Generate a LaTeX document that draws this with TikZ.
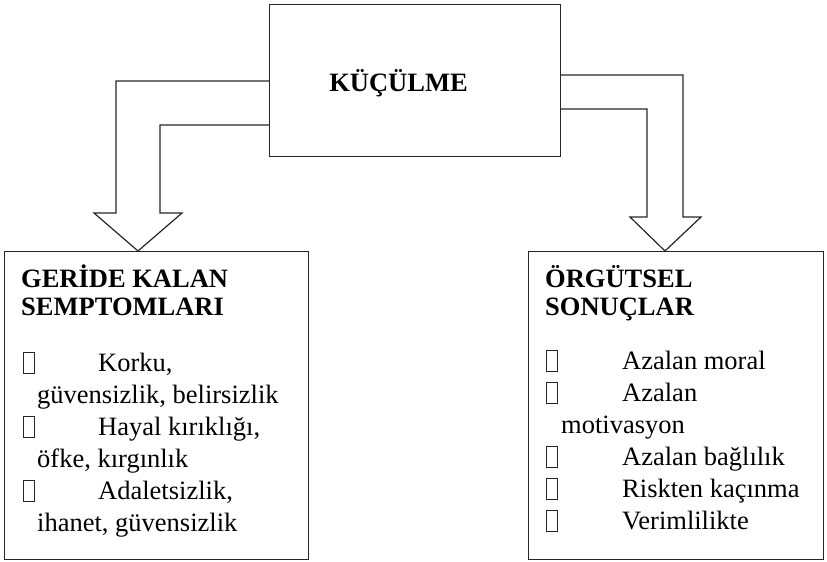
\documentclass[tikz,border=0pt]{standalone}
\usepackage{fontspec}
\setmainfont{Liberation Serif}
\newfontfamily\headfont{Liberation Serif}[UprightFont={* Bold}]
\begin{document}
\begin{tikzpicture}[x=1pt,y=-1pt]
\tikzset{
  frame/.style={draw=black!85, line width=1.2pt, inner sep=0pt, anchor=north west},
  blockarrow/.style={draw=black!85, line width=1.2pt},
  txt/.style={anchor=base west, inner sep=0pt, font=\fontsize{26.5}{30}\selectfont},
  head/.style={anchor=base west, inner sep=0pt, font=\headfont\fontsize{26.5}{30}\selectfont},
  tofu/.style={draw=black!85, line width=0.9pt, minimum width=11pt, minimum height=21pt, inner sep=0pt, anchor=south west}
}
\useasboundingbox (0,0) rectangle (827,562);

% central box
\node[frame, minimum width=291pt, minimum height=152pt] (kucul) at (269,4) {};
\node[head, anchor=base] (kuctitle) at (398.5,91) {KÜÇÜLME};

% left box: remaining-employee symptoms
\node[frame, minimum width=304pt, minimum height=308pt] (geride) at (4,251) {};
\node[head] (gh1) at (21,287) {GERİDE KALAN};
\node[head] (gh2) at (21,315) {SEMPTOMLARI};
\node[tofu] (gb1) at (23,374) {};
\node[txt] (gt1) at (98,371) {Korku,};
\node[txt] (gt2) at (37,403) {güvensizlik, belirsizlik};
\node[tofu] (gb2) at (23,438) {};
\node[txt] (gt3) at (98,435) {Hayal kırıklığı,};
\node[txt] (gt4) at (37,467) {öfke, kırgınlık};
\node[tofu] (gb3) at (23,502) {};
\node[txt] (gt5) at (98,499) {Adaletsizlik,};
\node[txt] (gt6) at (37,531) {ihanet, güvensizlik};

% right box: organisational outcomes
\node[frame, minimum width=295pt, minimum height=308pt] (orgut) at (528,251) {};
\node[head] (oh1) at (545,287) {ÖRGÜTSEL};
\node[head] (oh2) at (545,315) {SONUÇLAR};
\node[tofu] (ob1) at (546,372) {};
\node[txt] (ot1) at (622,369) {Azalan moral};
\node[tofu] (ob2) at (546,404) {};
\node[txt] (ot2) at (622,401) {Azalan};
\node[txt] (ot3) at (561,433) {motivasyon};
\node[tofu] (ob3) at (546,468) {};
\node[txt] (ot4) at (622,465) {Azalan bağlılık};
\node[tofu] (ob4) at (546,500) {};
\node[txt] (ot5) at (622,497) {Riskten kaçınma};
\node[tofu] (ob5) at (546,532) {};
\node[txt] (ot6) at (622,529) {Verimlilikte};

% block arrows from the central box down to each box
\draw[blockarrow] (kucul.west |- 0,81) -- (116,81) -- (116,213) -- (94,213)
  -- (geride.north -| 138,0) -- (182,213) -- (160,213) -- (160,125) -- (kucul.west |- 0,125);
\draw[blockarrow] (kucul.east |- 0,75) -- (683,75) -- (683,217) -- (701,217)
  -- (orgut.north -| 665,0) -- (630,217) -- (647,217) -- (647,109) -- (kucul.east |- 0,109);
\end{tikzpicture}
\end{document}
